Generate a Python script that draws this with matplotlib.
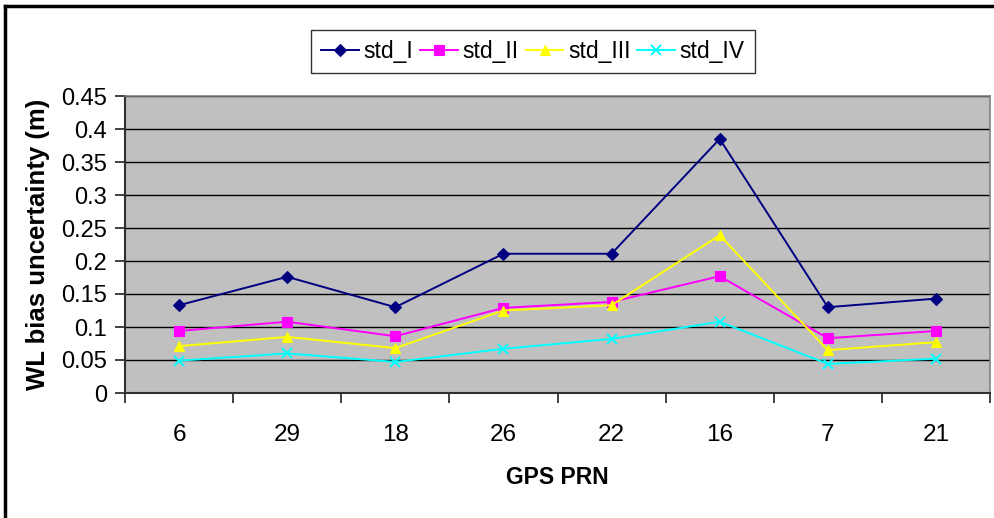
import matplotlib
matplotlib.use("Agg")
import matplotlib.pyplot as plt
from matplotlib.lines import Line2D

plt.rcParams['font.family'] = ['Liberation Sans', 'DejaVu Sans']

prn = ['6', '29', '18', '26', '22', '16', '7', '21']
std_I = [0.133, 0.176, 0.130, 0.211, 0.211, 0.385, 0.130, 0.143]
std_II = [0.094, 0.108, 0.086, 0.129, 0.138, 0.177, 0.083, 0.094]
std_III = [0.071, 0.085, 0.068, 0.125, 0.133, 0.239, 0.065, 0.077]
std_IV = [0.049, 0.060, 0.047, 0.067, 0.082, 0.108, 0.044, 0.052]
yticks = [0, 0.05, 0.1, 0.15, 0.2, 0.25, 0.3, 0.35, 0.4, 0.45]

series = [
    ('std_I', std_I, '#000080', 'D', 6),
    ('std_II', std_II, '#FF00FF', 's', 6.5),
    ('std_III', std_III, '#FFFF00', '^', 7),
    ('std_IV', std_IV, '#00FFFF', 'x', 7),
]

fig = plt.figure(figsize=(9.94, 5.18), dpi=100)
ax = fig.add_axes([125 / 994, 1 - 393 / 518, 865 / 994, 297 / 518])
ax.set_facecolor('#C0C0C0')

x = list(range(len(prn)))
for name, vals, col, mk, ms in series:
    ax.plot(x, vals, color=col, lw=1.4, marker=mk, markersize=ms,
            markeredgewidth=1.4 if mk == 'x' else 0.8, markeredgecolor=col,
            label=name, zorder=3)

ax.set_xlim(-0.5, len(prn) - 0.5)
ax.set_ylim(0, 0.45)
ax.set_yticks(yticks)
ax.set_yticklabels([f'{v:g}' for v in yticks], fontsize=17)
ax.set_xticks(x)
ax.set_xticklabels(prn, fontsize=17.5)
ax.set_xticks([i - 0.5 for i in range(len(prn) + 1)], minor=True)
ax.tick_params(axis='x', which='major', length=0, pad=22)
ax.tick_params(axis='x', which='minor', length=7, width=1.2, color='#202020')
ax.tick_params(axis='y', length=7, width=1.2, color='#202020', pad=6)
ax.grid(axis='y', color='black', lw=1)
ax.set_axisbelow(True)

for s in ['left', 'bottom']:
    ax.spines[s].set_color('#303030')
    ax.spines[s].set_linewidth(1.5)
for s in ['top', 'right']:
    ax.spines[s].set_color('#808080')
    ax.spines[s].set_linewidth(1.2)

fig.text(38 / 994, 1 - 244 / 518, 'WL bias uncertainty (m)', rotation=90,
         ha='center', va='center', fontsize=18.5, fontweight='bold')
fig.text(557 / 994, 1 - 478 / 518, 'GPS PRN', ha='center', va='center',
         fontsize=16.5, fontweight='bold')

leg = fig.legend(loc='center', bbox_to_anchor=(533 / 994, 1 - 51.5 / 518),
                 ncol=4, fontsize=16.5, frameon=True, fancybox=False,
                 edgecolor='black', handlelength=1.65, handletextpad=0.2,
                 columnspacing=0.3, borderpad=0.45, borderaxespad=0.3)
leg.get_frame().set_linewidth(1.0)

# outer chart border (top and left edges)
fig.add_artist(Line2D([5 / 994, 5 / 994], [0, 1 - 6 / 518], transform=fig.transFigure,
                      color='black', lw=2.5))
fig.add_artist(Line2D([5 / 994, 1], [1 - 6 / 518, 1 - 6 / 518], transform=fig.transFigure,
                      color='black', lw=2.5))

fig.savefig('out.png', dpi=100)
